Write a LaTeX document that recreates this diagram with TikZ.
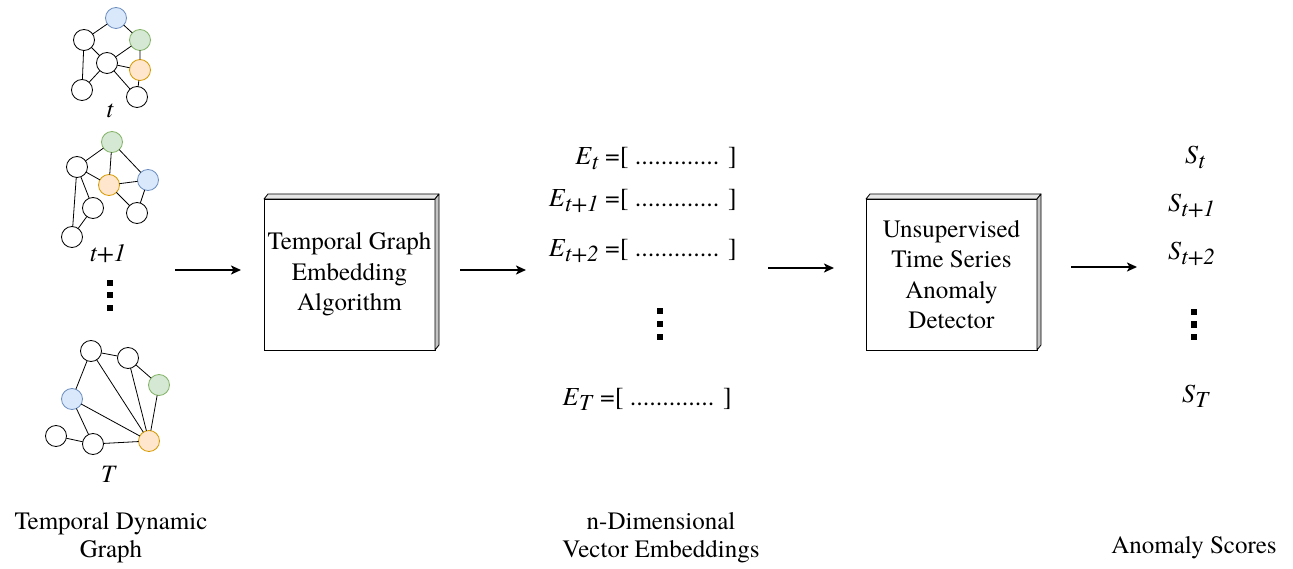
\documentclass[tikz,border=0pt]{standalone}
\usepackage{fontspec}
\setmainfont{texgyretermes}[Extension=.otf, UprightFont=*-regular, ItalicFont=*-italic, BoldFont=*-bold, BoldItalicFont=*-bolditalic]
\usetikzlibrary{arrows.meta}
\definecolor{bfill}{HTML}{DAE8FC}\definecolor{bline}{HTML}{6C8EBF}
\definecolor{gfill}{HTML}{D5E8D4}\definecolor{gline}{HTML}{82B366}
\definecolor{ofill}{HTML}{FFE6CC}\definecolor{oline}{HTML}{D79B00}
\definecolor{topgray}{HTML}{E6E6E6}\definecolor{sidegray}{HTML}{C4C4C4}
\newcommand{\lblfont}{\fontsize{25}{28}\selectfont}
\newcommand{\eqfont}{\fontsize{26}{30}\selectfont}
\newcommand{\mysub}[1]{\raisebox{-5pt}{\fontsize{23}{23}\selectfont\textit{#1}}}
\begin{document}
\begin{tikzpicture}[x=1pt,y=-1pt,
 gn/.style={circle,draw=black,fill=white,line width=0.8pt,minimum size=21pt,inner sep=0pt,outer sep=0pt},
 bn/.style={gn,draw=bline,fill=bfill},
 grn/.style={gn,draw=gline,fill=gfill},
 orn/.style={gn,draw=oline,fill=ofill},
 ge/.style={line width=0.8pt},
 box/.style={draw,fill=white,line width=0.8pt,minimum width=171pt,minimum height=151pt,inner sep=0pt,outer sep=0pt,align=center,font=\fontsize{25}{30.5}\selectfont},
 topf/.style={fill=topgray,draw,line width=0.8pt,line join=round},
 sidef/.style={fill=sidegray,draw,line width=0.8pt,line join=round},
 arr/.style={line width=2pt,-{Stealth[length=10pt,width=9pt,inset=2.5pt]}},
 txt/.style={font=\lblfont,inner sep=0pt},
 eq/.style={font=\eqfont,inner sep=0pt},
 sq/.style={rectangle,fill=black,minimum size=6pt,inner sep=0pt}]
\useasboundingbox (0,0) rectangle (1293,569);

% graph t
\node[gn] (a1) at (84,40) {};
\node[bn] (a2) at (116,18) {};
\node[grn] (a3) at (140,40) {};
\node[gn] (a4) at (107,63) {};
\node[orn] (a5) at (140,70) {};
\node[gn] (a6) at (82,90) {};
\node[gn] (a7) at (137,97) {};
\draw[ge] (a2)--(a1) (a2)--(a3) (a3)--(a4) (a3)--(a5) (a1)--(a6) (a1)--(a4) (a4)--(a6) (a4)--(a5) (a4)--(a7) (a5)--(a7);
\node[txt,anchor=base] (lt) at (110,118) {\textit{t}};

% graph t+1
\node[grn] (b1) at (112,142) {};
\node[gn] (b2) at (77,167) {};
\node[orn] (b3) at (109,185) {};
\node[bn] (b4) at (148,180) {};
\node[gn] (b5) at (93,208) {};
\node[gn] (b6) at (137,213) {};
\node[gn] (b7) at (72,237) {};
\draw[ge] (b1)--(b2) (b1)--(b3) (b1)--(b4) (b2)--(b3) (b2)--(b5) (b2)--(b7) (b5)--(b7) (b3)--(b4) (b3)--(b6) (b4)--(b6);
\node[txt,anchor=base] (lt1) at (108,262) {\textit{t+1}};
\node[sq] (gd1) at (110,283) {};
\node[sq] (gd2) at (110,295.5) {};
\node[sq] (gd3) at (110,308) {};

% graph T
\node[gn] (c1) at (91,351) {};
\node[gn] (c2) at (128,358) {};
\node[grn] (c3) at (159,385) {};
\node[bn] (c4) at (72,399) {};
\node[gn] (c5) at (56,436) {};
\node[gn] (c6) at (93,444) {};
\node[orn] (c7) at (149,441) {};
\draw[ge] (c1)--(c2) (c1)--(c4) (c1)--(c7) (c2)--(c7) (c2)--(c3) (c3)--(c7) (c4)--(c7) (c4)--(c6) (c5)--(c6) (c6)--(c7);
\node[txt,anchor=base] (lT) at (109,482) {\textit{T}};

% boxes
\node[box] (bx1) at (349.5,274.5) {Temporal Graph\\Embedding\\Algorithm};
\draw[topf] (bx1.north west) -- ++(4,-5) -- ++(171,0) -- (bx1.north east) -- cycle;
\draw[sidef] (bx1.north east) -- ++(4,-5) -- ++(0,151) -- (bx1.south east) -- cycle;

\node[box] (bx2) at (951.5,274.5) {Unsupervised\\Time Series\\Anomaly\\Detector};
\draw[topf] (bx2.north west) -- ++(4,-5) -- ++(171,0) -- (bx2.north east) -- cycle;
\draw[sidef] (bx2.north east) -- ++(4,-5) -- ++(0,151) -- (bx2.south east) -- cycle;

% arrows
\coordinate (p1) at (175,270); \coordinate (p2) at (241,270);
\coordinate (p3) at (460,270); \coordinate (p4) at (526,270);
\coordinate (p5) at (768,268); \coordinate (p6) at (834,268);
\coordinate (p7) at (1071,267); \coordinate (p8) at (1137,267);
\draw[arr] (p1) -- (p2);
\draw[arr] (p3) -- (p4);
\draw[arr] (p5) -- (p6);
\draw[arr] (p7) -- (p8);

% embeddings
\node[eq,anchor=base east] (e1) at (737,165) {\textit{E}\mysub{t} =[ ............. ]};
\node[eq,anchor=base east] (e2) at (737,207) {\textit{E}\mysub{t+1} =[ ............. ]};
\node[eq,anchor=base east] (e3) at (737,257) {\textit{E}\mysub{t+2} =[ ............. ]};
\node[sq] (ed1) at (660,311) {};
\node[sq] (ed2) at (660,324) {};
\node[sq] (ed3) at (660,337) {};
\node[eq,anchor=base east] (e4) at (732,405) {\textit{E}\mysub{T} =[ ............. ]};

% scores
\node[eq,anchor=base west] (s1) at (1185,164) {\textit{S}\mysub{t}};
\node[eq,anchor=base west] (s2) at (1168,212) {\textit{S}\mysub{t+1}};
\node[eq,anchor=base west] (s3) at (1168,260) {\textit{S}\mysub{t+2}};
\node[sq] (sd1) at (1194,312) {};
\node[sq] (sd2) at (1194,324.5) {};
\node[sq] (sd3) at (1194,337) {};
\node[eq,anchor=base west] (s4) at (1182,402) {\textit{S}\mysub{T}};

% captions
\node[txt,align=center] (cap1) at (111,538) {Temporal Dynamic\\Graph};
\node[txt,align=center] (cap2) at (661,538) {n-Dimensional\\Vector Embeddings};
\node[txt,anchor=base] (cap3) at (1194,553) {Anomaly Scores};
\end{tikzpicture}
\end{document}
